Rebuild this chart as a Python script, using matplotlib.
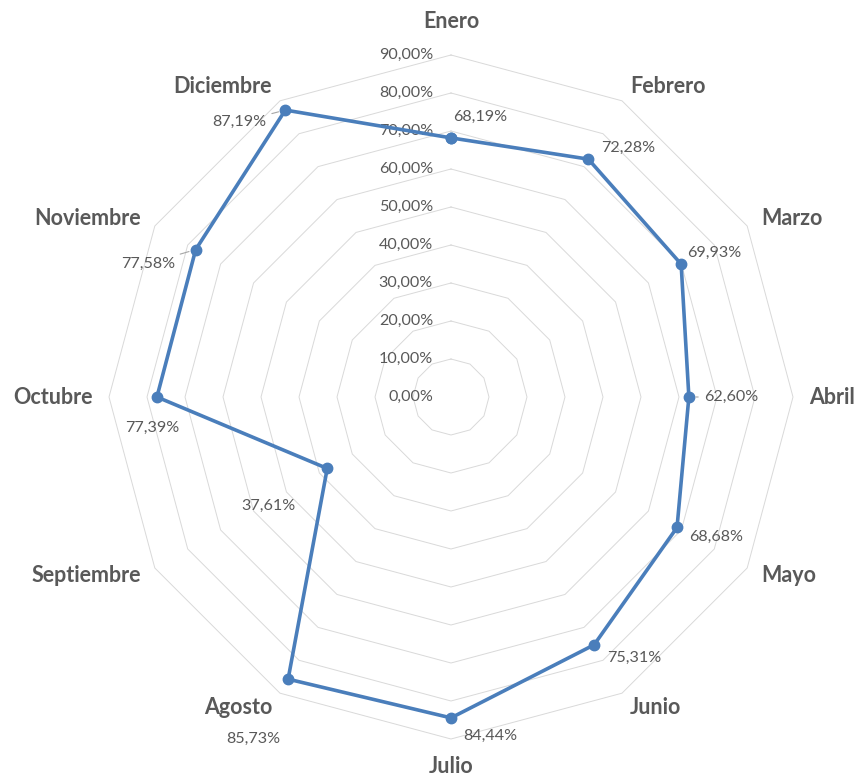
import numpy as np
import matplotlib
matplotlib.use("Agg")
import matplotlib.pyplot as plt

plt.rcParams['font.family'] = ['Lato', 'DejaVu Sans']

months = ["Enero", "Febrero", "Marzo", "Abril", "Mayo", "Junio", "Julio",
          "Agosto", "Septiembre", "Octubre", "Noviembre", "Diciembre"]
values = [68.19, 72.28, 69.93, 62.60, 68.68, 75.31, 84.44,
          85.73, 37.61, 77.39, 77.58, 87.19]
rticks = [0, 10, 20, 30, 40, 50, 60, 70, 80, 90]

# data-label offsets in pixels (dx right, dy down), relative to each point
label_offsets = [(29, -21), (40, -11), (33, -11), (42, 0), (39, 9), (40, 13),
                 (39, 18), (-35, 60), (-59, 37), (-5, 31), (-48, 14), (-46, 12)]
leaders = [False, False, False, True, False, False,
           False, False, False, False, True, True]

DPI = 100
fig = plt.figure(figsize=(8.58, 7.79), dpi=DPI)
ax = fig.add_axes([109/858, 40/779, 684/858, 684/779], projection='polar')
ax.set_theta_zero_location('N')
ax.set_theta_direction(-1)
ax.set_ylim(0, 90)
ax.set_xticks([])
ax.set_yticks([])
ax.grid(False)
ax.spines['polar'].set_visible(False)
ax.patch.set_visible(False)

n = len(months)
theta = np.arange(n) * 2 * np.pi / n
theta_c = np.append(theta, theta[0])

grid_col = '#d9d9d9'
for lv in rticks[1:]:
    ax.plot(theta_c, [lv] * (n + 1), color=grid_col, lw=0.7, zorder=1,
            clip_on=False)

txt_col = '#595959'
pt = 72 / DPI
for lv in rticks:
    ax.annotate(f"{lv:.2f}%".replace('.', ','), xy=(0, lv),
                xytext=(-18 * pt, 0), textcoords='offset points',
                ha='right', va='center', fontsize=11.6, color=txt_col,
                annotation_clip=False, zorder=2)

vals_c = np.append(values, values[0])
line_col = '#4a7ebb'
ax.plot(theta_c, vals_c, color=line_col, lw=2.6, marker='o', ms=7.5,
        markeredgecolor=line_col, markerfacecolor=line_col, zorder=4,
        clip_on=False)

for t, v, (dx, dy), ld in zip(theta, values, label_offsets, leaders):
    kw = {}
    if ld:
        kw['arrowprops'] = dict(arrowstyle='-', color='#a6a6a6', lw=0.8,
                                shrinkA=2, shrinkB=5)
    ax.annotate(f"{v:.2f}%".replace('.', ','), xy=(t, v),
                xytext=(dx * pt, -dy * pt), textcoords='offset points',
                ha='center', va='center', fontsize=11.6, color=txt_col,
                annotation_clip=False, zorder=5, **kw)

for t, m in zip(theta, months):
    s = np.sin(t)
    if abs(s) < 0.1:
        ha = 'center'
        if np.cos(t) > 0:
            r, va = 96, 'bottom'
        else:
            r, va = 94.4, 'top'
    else:
        ha = 'left' if s > 0 else 'right'
        r = 94.2
        va = 'center'
    ax.text(t, r, m, ha=ha, va=va, fontsize=15.5, fontweight='bold',
            color=txt_col, clip_on=False)

fig.savefig('out.png', dpi=DPI)
